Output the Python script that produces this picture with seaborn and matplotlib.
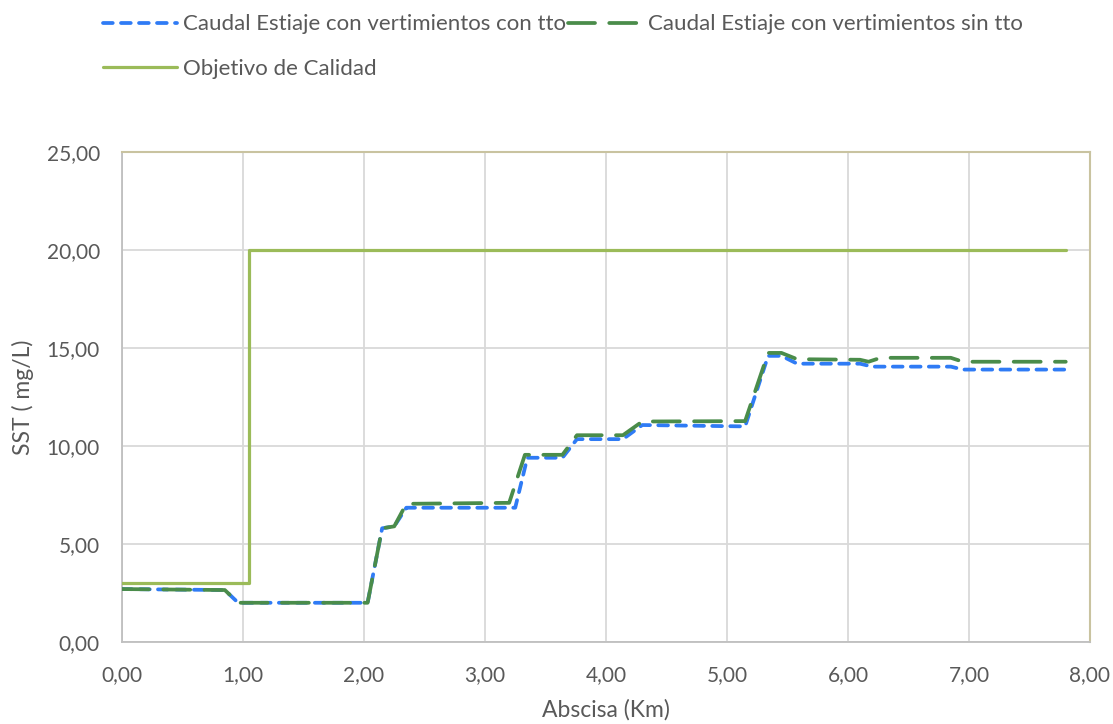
import matplotlib
matplotlib.use("Agg")
import matplotlib.pyplot as plt
import seaborn as sns
import pandas as pd
from matplotlib.ticker import FuncFormatter, MultipleLocator

# ---- data ----
x_con = [0, 0.85, 0.96, 2.03, 2.15, 2.25, 2.35, 3.25, 3.35, 3.64, 3.76, 4.14, 4.30,
         5.15, 5.34, 5.45, 5.58, 6.10, 6.20, 6.85, 6.95, 7.80]
y_con = [2.70, 2.65, 2.00, 2.00, 5.80, 5.90, 6.85, 6.85, 9.40, 9.40, 10.35, 10.35, 11.07,
         11.00, 14.60, 14.60, 14.20, 14.20, 14.05, 14.05, 13.90, 13.90]

x_sin = [0, 0.85, 0.96, 2.03, 2.15, 2.25, 2.35, 3.20, 3.33, 3.64, 3.76, 4.14, 4.30,
         5.15, 5.34, 5.45, 5.58, 6.10, 6.17, 6.27, 6.85, 6.95, 7.80]
y_sin = [2.70, 2.65, 2.00, 2.00, 5.80, 5.90, 7.05, 7.10, 9.55, 9.55, 10.55, 10.55, 11.25,
         11.27, 14.75, 14.75, 14.43, 14.40, 14.30, 14.50, 14.50, 14.30, 14.30]

x_obj = [0, 1.05, 1.05, 7.80]
y_obj = [3.0, 3.0, 20.0, 20.0]

labels = ["Caudal Estiaje con vertimientos con tto",
          "Caudal Estiaje con vertimientos sin tto",
          "Objetivo de Calidad"]

sns.set_theme(style="white")
plt.rcParams['font.family'] = ['Lato', 'DejaVu Sans']
txt = "#595959"

fig = plt.figure(figsize=(11.13, 7.24), dpi=100)
ax = fig.add_axes([0.1096, 0.1133, 0.8697, 0.6767])

df_con = pd.DataFrame({"x": x_con, "y": y_con})
df_sin = pd.DataFrame({"x": x_sin, "y": y_sin})
df_obj = pd.DataFrame({"x": x_obj, "y": y_obj})

sns.lineplot(data=df_obj, x="x", y="y", ax=ax, color="#9BBB59", lw=2.3,
             sort=False, estimator=None, label=labels[2], zorder=3)
sns.lineplot(data=df_con, x="x", y="y", ax=ax, color="#2F7BF5", lw=2.7,
             sort=False, estimator=None, label=labels[0], zorder=4)
sns.lineplot(data=df_sin, x="x", y="y", ax=ax, color="#4A8C4A", lw=2.7,
             sort=False, estimator=None, label=labels[1], zorder=5)
lines = ax.get_lines()
lines[1].set_dashes((2.6, 2.2))
lines[2].set_dashes((7.2, 3.8))
for ln in lines[1:3]:
    ln.set_dash_capstyle("round")
    ln.set_solid_capstyle("round")

ax.set_xlim(0, 8)
ax.set_ylim(0, 25)
ax.xaxis.set_major_locator(MultipleLocator(1))
ax.yaxis.set_major_locator(MultipleLocator(5))
fmt = FuncFormatter(lambda v, p: f"{v:.2f}".replace(".", ","))
ax.xaxis.set_major_formatter(fmt)
ax.yaxis.set_major_formatter(fmt)
ax.grid(True, color="#D9D9D9", lw=1.3)
ax.set_axisbelow(True)
ax.tick_params(axis="both", length=0, labelsize=15, colors=txt)
ax.tick_params(axis="x", pad=17)
ax.tick_params(axis="y", pad=16)
for s in ["left", "bottom"]:
    ax.spines[s].set_color("#BFBFBF")
    ax.spines[s].set_linewidth(1.3)
for s in ["top", "right"]:
    ax.spines[s].set_color("#C9C3A0")
    ax.spines[s].set_linewidth(1.5)

ax.set_xlabel("Abscisa (Km)", fontsize=16.5, color=txt, labelpad=10)
ax.set_ylabel("SST ( mg/L)", fontsize=16.5, color=txt, labelpad=9)

ax.get_legend().remove()
h = ax.get_lines()
handles = [h[1], h[0], h[2]]
leg_labels = [labels[0], labels[2], labels[1]]
fig.legend(handles, leg_labels, ncol=2, loc="upper left",
           bbox_to_anchor=(0.08, 1.0), frameon=False, fontsize=16,
           labelcolor=txt, handlelength=3.3, handletextpad=0.27,
           columnspacing=0.12, labelspacing=1.1, borderaxespad=0.25)

fig.savefig("out.png", dpi=100)
